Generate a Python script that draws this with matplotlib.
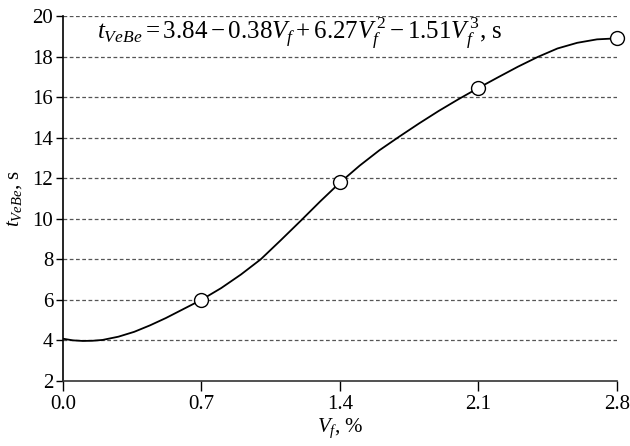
import numpy as np
import matplotlib
matplotlib.use('Agg')
from matplotlib import pyplot as plt

plt.rcParams['font.family'] = ['Liberation Serif', 'DejaVu Serif']
plt.rcParams['mathtext.fontset'] = 'custom'
plt.rcParams['mathtext.rm'] = 'Liberation Serif'
plt.rcParams['mathtext.it'] = 'Liberation Serif:italic'

# measured points
vf_pts = [0.7, 1.4, 2.1, 2.8]
t_pts = [6.0, 11.8, 16.45, 18.9]

# fitted curve
vf_curve = [0.0, 0.05, 0.1, 0.15, 0.2, 0.28, 0.36, 0.44, 0.52, 0.6, 0.7, 0.8, 0.9, 1.0,
            1.1, 1.2, 1.3, 1.4, 1.5, 1.6, 1.7, 1.8, 1.9, 2.0, 2.1, 2.2, 2.3, 2.4,
            2.5, 2.6, 2.7, 2.8]
t_curve = [4.08, 4.0, 3.97, 3.98, 4.02, 4.18, 4.42, 4.74, 5.1, 5.5, 6.0, 6.58, 7.25, 8.0,
           8.93, 9.88, 10.85, 11.78, 12.62, 13.38, 14.05, 14.7, 15.32, 15.9, 16.45, 16.98,
           17.5, 17.98, 18.4, 18.68, 18.85, 18.9]

xticks = [0.0, 0.7, 1.4, 2.1, 2.8]
yticks = list(range(2, 21, 2))

fig = plt.figure(figsize=(6.3, 4.46), dpi=100)
ax = fig.add_axes([0.1, 0.146, 0.879, 0.818])

for y in yticks[1:]:
    ax.axhline(y, color='#555555', lw=0.9, ls=(0, (3, 2)), zorder=1)

ax.plot(vf_curve, t_curve, color='black', lw=1.3, zorder=2)
ax.plot(vf_pts, t_pts, 'o', ms=10, mfc='white', mec='black', mew=1.0, zorder=3, clip_on=False)

ax.set_xlim(0, 2.8)
ax.set_ylim(2, 20)
ax.set_xticks(xticks)
ax.set_xticklabels(['%.1f' % v for v in xticks])
ax.set_yticks(yticks)
ax.tick_params(axis='both', labelsize=15, direction='out', color='black', width=1.0)
ax.tick_params(axis='x', length=7, pad=3)
ax.tick_params(axis='y', length=5, pad=2)

for s in ['top', 'right']:
    ax.spines[s].set_visible(False)
ax.spines['left'].set_linewidth(1.2)
ax.spines['bottom'].set_linewidth(1.2)
ax.spines['bottom'].set_color('#333333')

ax.text(0.17, 19.1, r'$t_{VeBe} = 3.84 - 0.38V_f + 6.27V_f^{\,2} - 1.51V_f^{\,3}$, s',
        fontsize=18, va='center', ha='left')

ax.set_xlabel(r'$V_f$, %', fontsize=15, labelpad=2)
ax.set_ylabel(r'$t_{VeBe}$, s', fontsize=15, labelpad=6)

fig.savefig('out.png', dpi=100)
